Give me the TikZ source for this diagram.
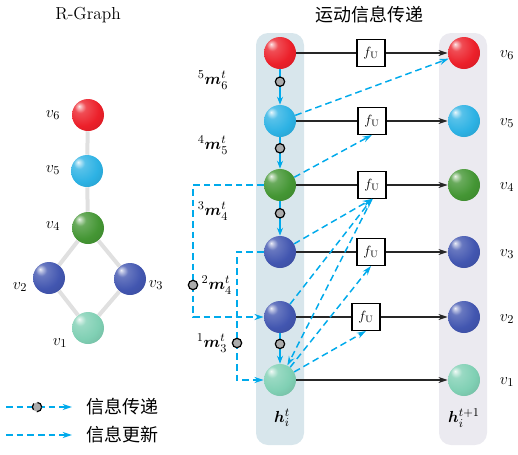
\documentclass[tikz,border=0pt]{standalone}
\usepackage{amsmath}
\usepackage{bm}
\usepackage{fontspec}
\newfontfamily\cjk{Noto Sans CJK SC}
\usetikzlibrary{arrows.meta}

\definecolor{cRed}{RGB}{236,32,42}
\definecolor{cSky}{RGB}{45,178,228}
\definecolor{cGreen}{RGB}{68,150,52}
\definecolor{cBlue}{RGB}{66,86,176}
\definecolor{cMint}{RGB}{128,208,180}
\definecolor{msgblue}{RGB}{0,170,235}
\definecolor{panelL}{RGB}{216,230,236}
\definecolor{panelR}{RGB}{235,234,240}

% glossy ball, lighter than the default ball shading
\makeatletter
\pgfdeclareradialshading[tikz@ball]{gloss}{\pgfpoint{-14bp}{14bp}}{%
  color(0bp)=(tikz@ball!10!white);
  color(3bp)=(tikz@ball!35!white);
  color(9bp)=(tikz@ball!80!white);
  color(26bp)=(tikz@ball);
  color(50bp)=(tikz@ball!82!black);
  color(72bp)=(tikz@ball!62!black)}
\makeatother

\begin{document}
\begin{tikzpicture}[
  x=0.75pt, y=-0.75pt,
  sphere/.style={circle, minimum size=24pt, inner sep=0pt,
                 ball color=#1, shading=gloss},
  fubox/.style={draw, line width=0.9pt, fill=white, minimum width=21pt,
                minimum height=20pt, inner sep=0pt},
  msg/.style={circle, draw=black, fill=gray!65, line width=0.9pt,
              minimum size=7pt, inner sep=0pt},
  link/.style={line width=0.9pt, black!85},
  flow/.style={-{Stealth[length=7pt,width=4.5pt]}, line width=0.9pt, black!85},
  msgline/.style={-{Stealth[length=6pt,width=4.5pt]}, line width=1.1pt, msgblue},
  upd/.style={-{Stealth[length=7pt,width=4.5pt]}, line width=1.1pt, msgblue,
              dash pattern=on 5pt off 3pt},
  gedge/.style={line width=3pt, black!12},
  lbl/.style={font=\fontsize{13}{15}\selectfont},
  zh/.style={font=\cjk\fontsize{13.5}{15}\selectfont},
]
\useasboundingbox (0,0) rectangle (518,454);

% panels for h^t and h^{t+1}
\fill[panelL, rounded corners=9pt] (256,33) rectangle (304,445);
\fill[panelR, rounded corners=9pt] (439,33) rectangle (487,445);

\node[lbl] (tg) at (88,15) {R-Graph};
\node[zh] (tm) at (369,15) {运动信息传递};

% R-Graph
\node[sphere=cRed]   (g6) at (88,115) {};
\node[sphere=cSky]   (g5) at (87,171) {};
\node[sphere=cGreen] (g4) at (88,228) {};
\node[sphere=cBlue]  (g2) at (49,278) {};
\node[sphere=cBlue]  (g3) at (130,279) {};
\node[sphere=cMint]  (g1) at (88,328) {};

\draw[gedge] (g6)--(g5); \draw[gedge] (g5)--(g4);
\draw[gedge] (g4)--(g2); \draw[gedge] (g4)--(g3);
\draw[gedge] (g2)--(g1); \draw[gedge] (g3)--(g1);

\node[lbl] (n6) at (53,115) {$v_6$};
\node[lbl] (n5) at (53,170) {$v_5$};
\node[lbl] (n4) at (53,226) {$v_4$};
\node[lbl] (n2) at (20,287) {$v_2$};
\node[lbl] (n3) at (156,285) {$v_3$};
\node[lbl] (n1) at (60,343) {$v_1$};

% states at t
\node[sphere=cRed]   (a6) at (280,53)  {};
\node[sphere=cSky]   (a5) at (280,121) {};
\node[sphere=cGreen] (a4) at (280,185) {};
\node[sphere=cBlue]  (a3) at (280,252) {};
\node[sphere=cBlue]  (a2) at (280,317) {};
\node[sphere=cMint]  (a1) at (280,380) {};

% states at t+1
\node[sphere=cRed]   (b6) at (464,53)  {};
\node[sphere=cSky]   (b5) at (464,121) {};
\node[sphere=cGreen] (b4) at (464,185) {};
\node[sphere=cBlue]  (b3) at (464,252) {};
\node[sphere=cBlue]  (b2) at (464,317) {};
\node[sphere=cMint]  (b1) at (464,380) {};

% update functions
\node[fubox] (f6) at (371,53)  {$f_{\mathrm{U}}$};
\node[fubox] (f5) at (372,121) {$f_{\mathrm{U}}$};
\node[fubox] (f4) at (372,185) {$f_{\mathrm{U}}$};
\node[fubox] (f3) at (371,252) {$f_{\mathrm{U}}$};
\node[fubox] (f2) at (366,317) {$f_{\mathrm{U}}$};

\draw[link] (a6)--(f6); \draw[flow] (f6)--(b6);
\draw[link] (a5)--(f5); \draw[flow] (f5)--(b5);
\draw[link] (a4)--(f4); \draw[flow] (f4)--(b4);
\draw[link] (a3)--(f3); \draw[flow] (f3)--(b3);
\draw[link] (a2)--(f2); \draw[flow] (f2)--(b2);
\draw[flow] (a1)--(b1);

% information update
\draw[upd] (a5)--(b6);
\draw[upd] (a4)--(f5.south);
\draw[upd] (a3)--(f4.south);
\draw[upd] (a2)--(f4.south);
\draw[upd] (a1)--(f3.south);
\draw[upd] (a1)--(f2.south);
\draw[upd] (f4.south)--(a1);

% information passing
\draw[msgline] (a6)--(a5) node[msg, pos=0.35] (m65) {};
\draw[msgline] (a5)--(a4) node[msg, pos=0.35] (m54) {};
\draw[msgline] (a4)--(a3) node[msg, pos=0.35] (m43) {};
\draw[msgline] (a2)--(a1) node[msg, pos=0.35] (m21) {};

\coordinate (k4) at (193,185);
\coordinate (k3) at (237,252);
\draw[upd] (a4.west)--(k4) |- (a2.west);
\draw[upd] (a3.west)--(k3) |- (a1.west);
\node[msg] (m42) at (193,285) {};
\node[msg] (m31) at (237,343) {};

\node[lbl] (l65) at (213,80)  {${}^{5}\bm{m}_{6}^{t}$};
\node[lbl] (l54) at (213,145) {${}^{4}\bm{m}_{5}^{t}$};
\node[lbl] (l43) at (213,211) {${}^{3}\bm{m}_{4}^{t}$};
\node[lbl, anchor=west] (l42) at (197,285) {${}^{2}\bm{m}_{4}^{t}$};
\node[lbl] (l31) at (212,343) {${}^{1}\bm{m}_{3}^{t}$};

\node[lbl] (ht)  at (282,418) {$\bm{h}_{i}^{t}$};
\node[lbl] (ht1) at (464,418) {$\bm{h}_{i}^{t+1}$};

\node[lbl] (r6) at (507,55)  {$v_6$};
\node[lbl] (r5) at (507,123) {$v_5$};
\node[lbl] (r4) at (507,187) {$v_4$};
\node[lbl] (r3) at (507,254) {$v_3$};
\node[lbl] (r2) at (507,319) {$v_2$};
\node[lbl] (r1) at (507,382) {$v_1$};

% legend
\coordinate (e1a) at (6,407);  \coordinate (e1b) at (72,407);
\coordinate (e2a) at (6,435);  \coordinate (e2b) at (72,435);
\draw[upd] (e1a)--(e1b) node[msg, pos=0.47] (lm) {};
\draw[upd] (e2a)--(e2b);
\node[zh, anchor=west] (t1) at (82,407) {信息传递};
\node[zh, anchor=west] (t2) at (82,435) {信息更新};
\end{tikzpicture}
\end{document}
